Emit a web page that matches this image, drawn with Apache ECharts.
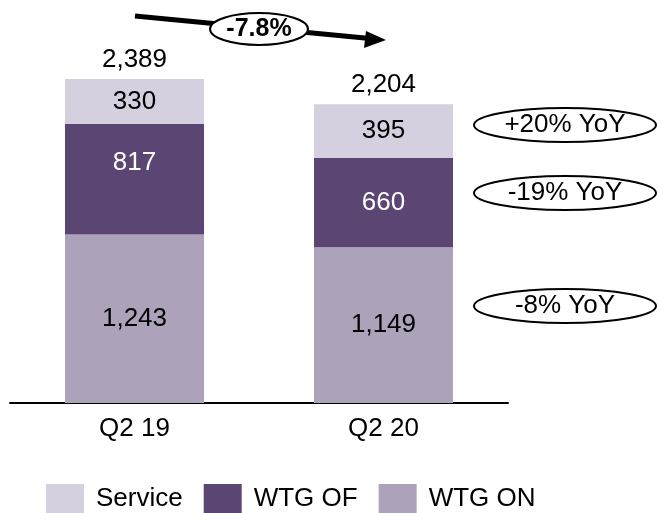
<!DOCTYPE html>
<html>
<head>
<meta charset="utf-8">
<script src="https://cdn.jsdelivr.net/npm/echarts@6/dist/echarts.min.js"></script>
<style>
  html, body { margin: 0; padding: 0; background: #fff; }
  #chart { width: 659px; height: 513px; }
</style>
</head>
<body>
<div id="chart"></div>
<script>
var categories = ["Q2 19", "Q2 20"];
var wtgOn = [1243, 1149];
var wtgOf = [817, 660];
var service = [330, 395];
var totals = [2389, 2204];
var change = "-7.8%";
var yoyNotes = ["+20% YoY", "-19% YoY", "-8% YoY"];

var font = "Liberation Sans, Arial, sans-serif";
var colors = { service: "#d5d0e0", of: "#5b4573", on: "#aca3ba" };

var chartDom = document.getElementById("chart");
var myChart = echarts.init(chartDom);

function fmt(p) {
  return echarts.format.addCommas(p.value);
}

function ellipse(cx, cy, rx, ry, text, bold) {
  return {
    type: "group",
    children: [
      {
        type: "ellipse",
        shape: { cx: cx, cy: cy, rx: rx, ry: ry },
        style: { fill: "#fff", stroke: "#000", lineWidth: 2 },
        z: 10
      },
      {
        type: "text",
        x: cx,
        y: cy,
        style: {
          text: text,
          align: "center",
          verticalAlign: "middle",
          fontFamily: font,
          fontSize: bold ? 25 : 26,
          fontWeight: bold ? "bold" : "normal",
          fill: "#000"
        },
        z: 11
      }
    ]
  };
}

var option = {
  animation: false,
  grid: { left: 10, right: 151, top: 23.4, bottom: 110 },
  xAxis: {
    type: "category",
    data: categories,
    axisLine: { lineStyle: { color: "#000", width: 2 } },
    axisTick: { show: false },
    axisLabel: { color: "#000", fontFamily: font, fontSize: 26, margin: 13 }
  },
  yAxis: { type: "value", min: 0, max: 2800, show: false, splitLine: { show: false } },
  legend: {
    data: ["Service", "WTG OF", "WTG ON"],
    left: 46,
    top: 484,
    padding: 0,
    icon: "rect",
    itemWidth: 38,
    itemHeight: 30,
    itemGap: 21,
    textStyle: { color: "#000", fontFamily: font, fontSize: 26, padding: [0, 0, 0, 7] }
  },
  series: [
    {
      name: "WTG ON",
      type: "bar",
      stack: "t",
      barWidth: 139,
      data: wtgOn,
      itemStyle: { color: colors.on },
      label: { show: true, position: "inside", color: "#000", fontFamily: font, fontSize: 26, formatter: fmt }
    },
    {
      name: "WTG OF",
      type: "bar",
      stack: "t",
      data: [
        { value: wtgOf[0], label: { offset: [0, -16] } },
        wtgOf[1]
      ],
      itemStyle: { color: colors.of },
      label: { show: true, position: "inside", color: "#fff", fontFamily: font, fontSize: 26, formatter: fmt }
    },
    {
      name: "Service",
      type: "bar",
      stack: "t",
      data: service,
      itemStyle: { color: colors.service },
      label: { show: true, position: "inside", color: "#000", fontFamily: font, fontSize: 26, formatter: fmt }
    },
    {
      name: "Total",
      type: "bar",
      stack: "t",
      data: [0, 0],
      itemStyle: { color: "transparent" },
      label: {
        show: true,
        position: "top",
        distance: 6,
        color: "#000",
        fontFamily: font,
        fontSize: 26,
        formatter: function (p) { return echarts.format.addCommas(totals[p.dataIndex]); }
      }
    }
  ],
  graphic: [
    {
      type: "line",
      shape: { x1: 135, y1: 16, x2: 370, y2: 38.5 },
      style: { stroke: "#000", lineWidth: 5 },
      z: 5
    },
    {
      type: "polygon",
      shape: { points: [[386, 40], [366, 31], [364, 48]] },
      style: { fill: "#000" },
      z: 5
    },
    ellipse(259, 29, 49, 16, change, true),
    ellipse(565, 125, 91, 17, yoyNotes[0], false),
    ellipse(565, 193, 91, 17, yoyNotes[1], false),
    ellipse(565, 306, 91, 17, yoyNotes[2], false)
  ]
};

option && myChart.setOption(option);
</script>
</body>
</html>
